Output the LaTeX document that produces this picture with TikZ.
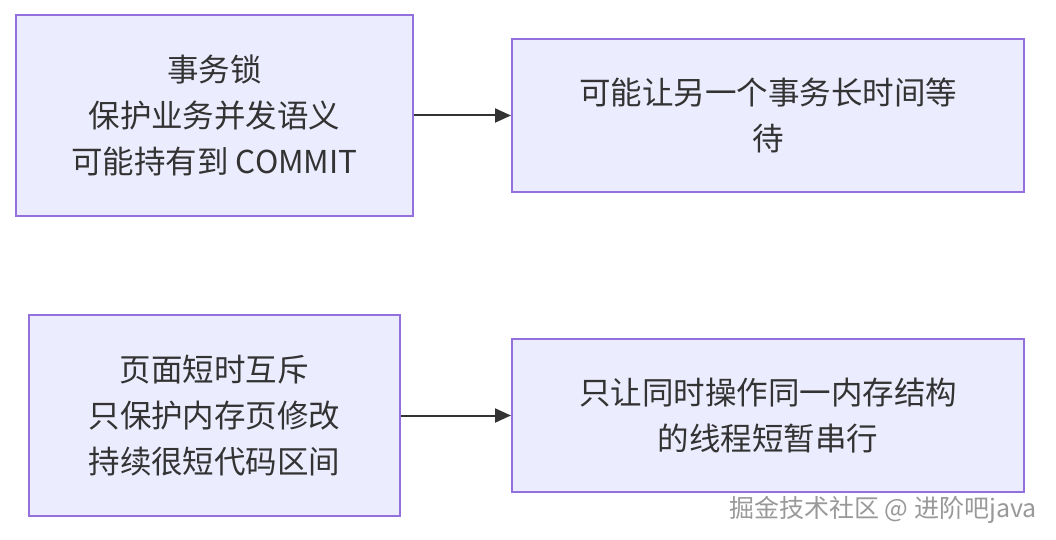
\documentclass[tikz,border=0pt]{standalone}
\usepackage{fontspec}
\setmainfont{Noto Sans CJK SC}
\usepackage{tikz}
\usetikzlibrary{shapes,arrows,arrows.meta,positioning}
\definecolor{boxfill}{HTML}{ECECFF}
\definecolor{boxline}{HTML}{9370DB}
\definecolor{ink}{HTML}{333333}
\tikzstyle{lock} = [rectangle, draw=boxline, line width=1pt, fill=boxfill, text=ink, align=center, inner sep=0pt, font=\fontsize{15.75pt}{23pt}\selectfont]
\tikzstyle{tedge}  = [draw=ink, line width=1pt, >={Triangle[length=8pt,width=7pt]}, ->]

\begin{document}
\begin{tikzpicture}[auto]

\useasboundingbox[fill=white] (0,0) rectangle (528pt,-270pt);

% locks =============================

% transaction lock
\node[lock, minimum width=198.5pt, minimum height=100.5pt] (txlock) at (107.25pt,-57.75pt) {事务锁\\保护业务并发语义\\可能持有到 COMMIT};
\node[lock, minimum width=256pt, minimum height=76.5pt, right=48.5pt of txlock] (txwait) {可能让另一个事务长时间等\\待};

% page latch
\node[lock, minimum width=185.5pt, minimum height=100.5pt, below=48.5pt of txlock] (latch) {页面短时互斥\\只保护内存页修改\\持续很短代码区间};
\node[lock, minimum width=256pt, minimum height=76.5pt, right=55pt of latch] (latchwait) {只让同时操作同一内存结构\\的线程短暂串行};

% watermark
\node[text=gray!80, font=\fontsize{12.5pt}{14pt}\selectfont] (mark) at (441.5pt,-255pt) {掘金技术社区 @ 进阶吧java};

%edges
\path[tedge] (txlock) -- (txwait);
\path[tedge] (latch) -- (latchwait);

\end{tikzpicture}
\end{document}
